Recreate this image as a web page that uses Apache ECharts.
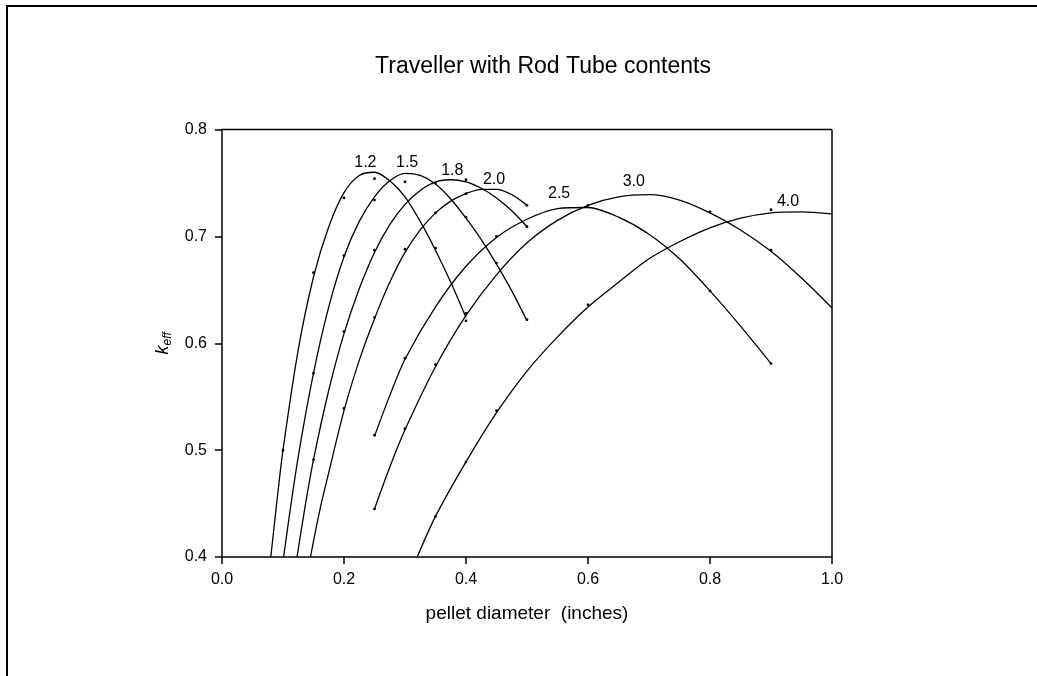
<!DOCTYPE html>
<html>
<head>
<meta charset="utf-8">
<title>Traveller with Rod Tube contents</title>
<script src="https://cdn.jsdelivr.net/npm/echarts@6/dist/echarts.min.js"></script>
<style>
  html, body { margin: 0; padding: 0; background: #fff; }
  #chart { width: 1037px; height: 676px; }
</style>
</head>
<body>
<div id="chart"></div>
<script>
// Fitted k-eff curves, one per enrichment: [pellet diameter (in), k-eff]
const curve12 = [[0.080,0.400],[0.090,0.452],[0.100,0.500],[0.125,0.594],[0.150,0.662],[0.175,0.709],[0.200,0.741],[0.225,0.757],[0.250,0.760],[0.275,0.752],[0.300,0.737],[0.325,0.714],[0.350,0.687],[0.375,0.657],[0.400,0.624]];
const curve15 = [[0.101,0.400],[0.110,0.437],[0.125,0.494],[0.150,0.572],[0.175,0.634],[0.200,0.681],[0.225,0.714],[0.250,0.737],[0.275,0.752],[0.300,0.759],[0.325,0.757],[0.350,0.749],[0.375,0.735],[0.400,0.717],[0.425,0.697],[0.450,0.674],[0.475,0.649],[0.500,0.621]];
const curve18 = [[0.123,0.400],[0.135,0.443],[0.150,0.491],[0.175,0.556],[0.200,0.609],[0.225,0.651],[0.250,0.685],[0.275,0.711],[0.300,0.730],[0.325,0.743],[0.350,0.751],[0.375,0.753],[0.400,0.751],[0.425,0.745],[0.450,0.736],[0.475,0.724],[0.500,0.709]];
const curve20 = [[0.145,0.400],[0.160,0.443],[0.175,0.479],[0.200,0.537],[0.225,0.584],[0.250,0.623],[0.275,0.657],[0.300,0.685],[0.325,0.706],[0.350,0.722],[0.375,0.733],[0.400,0.740],[0.425,0.744],[0.450,0.744],[0.475,0.739],[0.500,0.729]];
const curve25 = [[0.250,0.513],[0.275,0.551],[0.300,0.585],[0.350,0.634],[0.400,0.672],[0.450,0.699],[0.500,0.716],[0.550,0.726],[0.600,0.727],[0.650,0.718],[0.700,0.702],[0.750,0.679],[0.800,0.649],[0.850,0.616],[0.900,0.581]];
const curve30 = [[0.250,0.445],[0.275,0.484],[0.300,0.519],[0.350,0.578],[0.400,0.626],[0.450,0.664],[0.500,0.694],[0.550,0.715],[0.600,0.729],[0.650,0.737],[0.700,0.739],[0.750,0.734],[0.800,0.722],[0.850,0.706],[0.900,0.686],[0.950,0.661],[1.000,0.633]];
const curve40 = [[0.320,0.400],[0.350,0.438],[0.400,0.489],[0.450,0.535],[0.500,0.574],[0.550,0.606],[0.600,0.634],[0.650,0.657],[0.700,0.679],[0.750,0.695],[0.800,0.708],[0.850,0.717],[0.900,0.722],[0.950,0.723],[1.000,0.721]];

// Calculated points
const points12 = [[0.10,0.500],[0.15,0.666],[0.20,0.736],[0.25,0.754],[0.35,0.689],[0.40,0.628]];
const points15 = [[0.15,0.572],[0.20,0.682],[0.25,0.734],[0.30,0.751],[0.40,0.718],[0.45,0.675],[0.50,0.622]];
const points18 = [[0.15,0.491],[0.20,0.611],[0.25,0.687],[0.35,0.750],[0.40,0.753],[0.50,0.709]];
const points20 = [[0.20,0.539],[0.25,0.624],[0.30,0.688],[0.35,0.722],[0.40,0.740],[0.50,0.729]];
const points25 = [[0.25,0.514],[0.30,0.586],[0.45,0.700],[0.60,0.729],[0.80,0.649],[0.90,0.581]];
const points30 = [[0.25,0.445],[0.30,0.520],[0.35,0.580],[0.40,0.621],[0.80,0.723],[0.90,0.687]];
const points40 = [[0.35,0.438],[0.40,0.489],[0.45,0.537],[0.60,0.636],[0.90,0.725]];

// Curve labels (enrichment) and where they sit
const curveNames = ['1.2', '1.5', '1.8', '2.0', '2.5', '3.0', '4.0'];
const labelSpots = [[0.235,0.769],[0.3035,0.769],[0.3775,0.762],[0.446,0.7527],[0.5527,0.7396],[0.675,0.751],[0.928,0.733]];

// Axis ticks
const xTicks = [0.0, 0.2, 0.4, 0.6, 0.8, 1.0];
const yTicks = [0.4, 0.5, 0.6, 0.7, 0.8];

const FONT = 'Liberation Sans, Arial, sans-serif';
const curves = [curve12, curve15, curve18, curve20, curve25, curve30, curve40];
const pointSets = [points12, points15, points18, points20, points25, points30, points40];

const series = [];
curves.forEach((c, i) => {
  series.push({
    name: 'curve ' + curveNames[i],
    type: 'line',
    data: c,
    smooth: 0.3,
    showSymbol: false,
    symbol: 'none',
    clip: true,
    lineStyle: { color: '#000', width: 1.3 },
    z: 2
  });
});
pointSets.forEach((p, i) => {
  series.push({
    name: 'points ' + curveNames[i],
    type: 'scatter',
    data: p,
    symbol: 'circle',
    symbolSize: 2.8,
    itemStyle: { color: '#000', opacity: 1 },
    z: 3
  });
});
series.push({
  name: 'labels',
  type: 'scatter',
  data: labelSpots.map((s, i) => ({ value: s, name: curveNames[i] })),
  symbolSize: 0,
  itemStyle: { opacity: 1 },
  label: {
    show: true,
    position: 'inside',
    formatter: (d) => d.name,
    color: '#000',
    opacity: 1,
    fontFamily: FONT,
    fontSize: 16
  },
  z: 4
});

const chart = echarts.init(document.getElementById('chart'), null, { renderer: 'canvas' });
chart.setOption({
  animation: false,
  backgroundColor: '#fff',
  title: {
    text: 'Traveller with Rod Tube contents',
    left: 538,
    top: 50,
    textAlign: 'center',
    textStyle: { fontFamily: FONT, fontSize: 23, fontWeight: 'normal', color: '#000' }
  },
  grid: { left: 222, right: 205, top: 129.5, bottom: 119, containLabel: false },
  xAxis: {
    type: 'value',
    min: xTicks[0],
    max: xTicks[xTicks.length - 1],
    interval: 0.2,
    name: 'pellet diameter  (inches)',
    nameLocation: 'middle',
    nameGap: 47,
    nameTextStyle: { fontFamily: FONT, fontSize: 19, color: '#000' },
    axisLine: { show: true, lineStyle: { color: '#000', width: 1.5 } },
    axisTick: { show: true, inside: false, length: 7, lineStyle: { color: '#000', width: 1.5 } },
    axisLabel: { margin: 15, fontFamily: FONT, fontSize: 16, color: '#000', formatter: v => v.toFixed(1) },
    splitLine: { show: false }
  },
  yAxis: {
    type: 'value',
    min: yTicks[0],
    max: yTicks[yTicks.length - 1],
    interval: 0.1,
    name: '{k|k}{s|eff}',
    nameLocation: 'middle',
    nameRotate: 90,
    nameGap: 25,
    nameTextStyle: {
      color: '#000',
      rich: {
        k: { fontFamily: FONT, fontStyle: 'italic', fontSize: 18, color: '#000', lineHeight: 22 },
        s: { fontFamily: FONT, fontStyle: 'italic', fontSize: 12, color: '#000', lineHeight: 22, padding: [10, 0, 0, 0] }
      }
    },
    axisLine: { show: true, lineStyle: { color: '#000', width: 1.5 } },
    axisTick: { show: true, inside: false, length: 7, lineStyle: { color: '#000', width: 1.5 } },
    axisLabel: { margin: 15, fontFamily: FONT, fontSize: 16, color: '#000', formatter: v => v.toFixed(1) },
    splitLine: { show: false }
  },
  graphic: [
    // page frame edges (left and top)
    { type: 'line', shape: { x1: 7, y1: 6, x2: 7, y2: 676 }, style: { stroke: '#000', lineWidth: 2 } },
    { type: 'line', shape: { x1: 6, y1: 6, x2: 1037, y2: 6 }, style: { stroke: '#000', lineWidth: 2 } },
    // closing box edges of the plot
    { type: 'line', shape: { x1: 222, y1: 129.5, x2: 832, y2: 129.5 }, style: { stroke: '#000', lineWidth: 1.5 }, z: 10 },
    { type: 'line', shape: { x1: 832, y1: 129.5, x2: 832, y2: 557 }, style: { stroke: '#000', lineWidth: 1.5 }, z: 10 }
  ],
  series: series
});
</script>
</body>
</html>
